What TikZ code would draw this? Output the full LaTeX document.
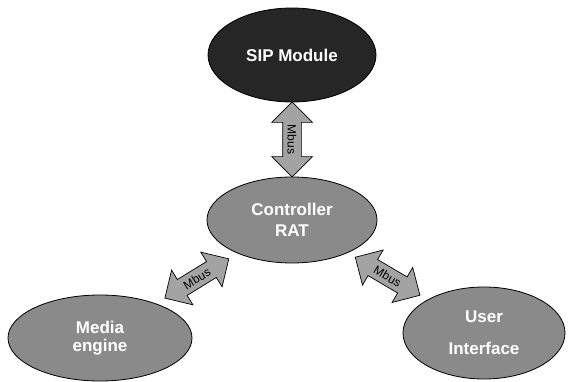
\documentclass[tikz,border=0pt]{standalone}
\usepackage{fontspec}
\setmainfont{Liberation Sans}
\usepackage{tikz}
\usetikzlibrary{shapes,shapes.arrows,calc,positioning}
\definecolor{grisOscuro}{RGB}{38,38,38}
\definecolor{grisMedio}{RGB}{138,138,138}
\definecolor{grisClaro}{RGB}{163,163,163}
\tikzstyle{module}=[ellipse, draw, line width=0.8pt,
                    inner sep=0pt, text=white, align=center,
                    font=\bfseries\fontsize{17}{21}\selectfont]
\tikzstyle{mbus}  =[double arrow, draw, fill=grisClaro,
                    line width=0.7pt, double arrow head extend=11pt,
                    text height=9pt, text depth=0pt, inner ysep=4.5pt,
                    minimum height=75pt, font=\fontsize{12}{14}\selectfont]

\begin{document}
\begin{tikzpicture}[x=1pt,y=-1pt]
    \useasboundingbox (0,0) rectangle (569,382);

    \draw (292,55) node (sip) [module,fill=grisOscuro,minimum width=168pt,minimum height=94pt] {SIP Module};
    \draw (292,220) node (ctrl) [module,fill=grisMedio,minimum width=170pt,minimum height=86pt] {Controller\\RAT};
    \draw (100,338) node (media) [module,fill=grisMedio,minimum width=184pt,minimum height=86pt] {Media\\[-3pt]engine};
    \draw (484,333) node (ui) [module,fill=grisMedio,minimum width=162pt,minimum height=92pt] {User\\[11pt]Interface};

    \foreach \i/\j in{sip/ctrl,media/ctrl,ctrl/ui}
        \path (\i) -- (\j) node [mbus,midway,sloped] {Mbus};

\end{tikzpicture}
\end{document}
